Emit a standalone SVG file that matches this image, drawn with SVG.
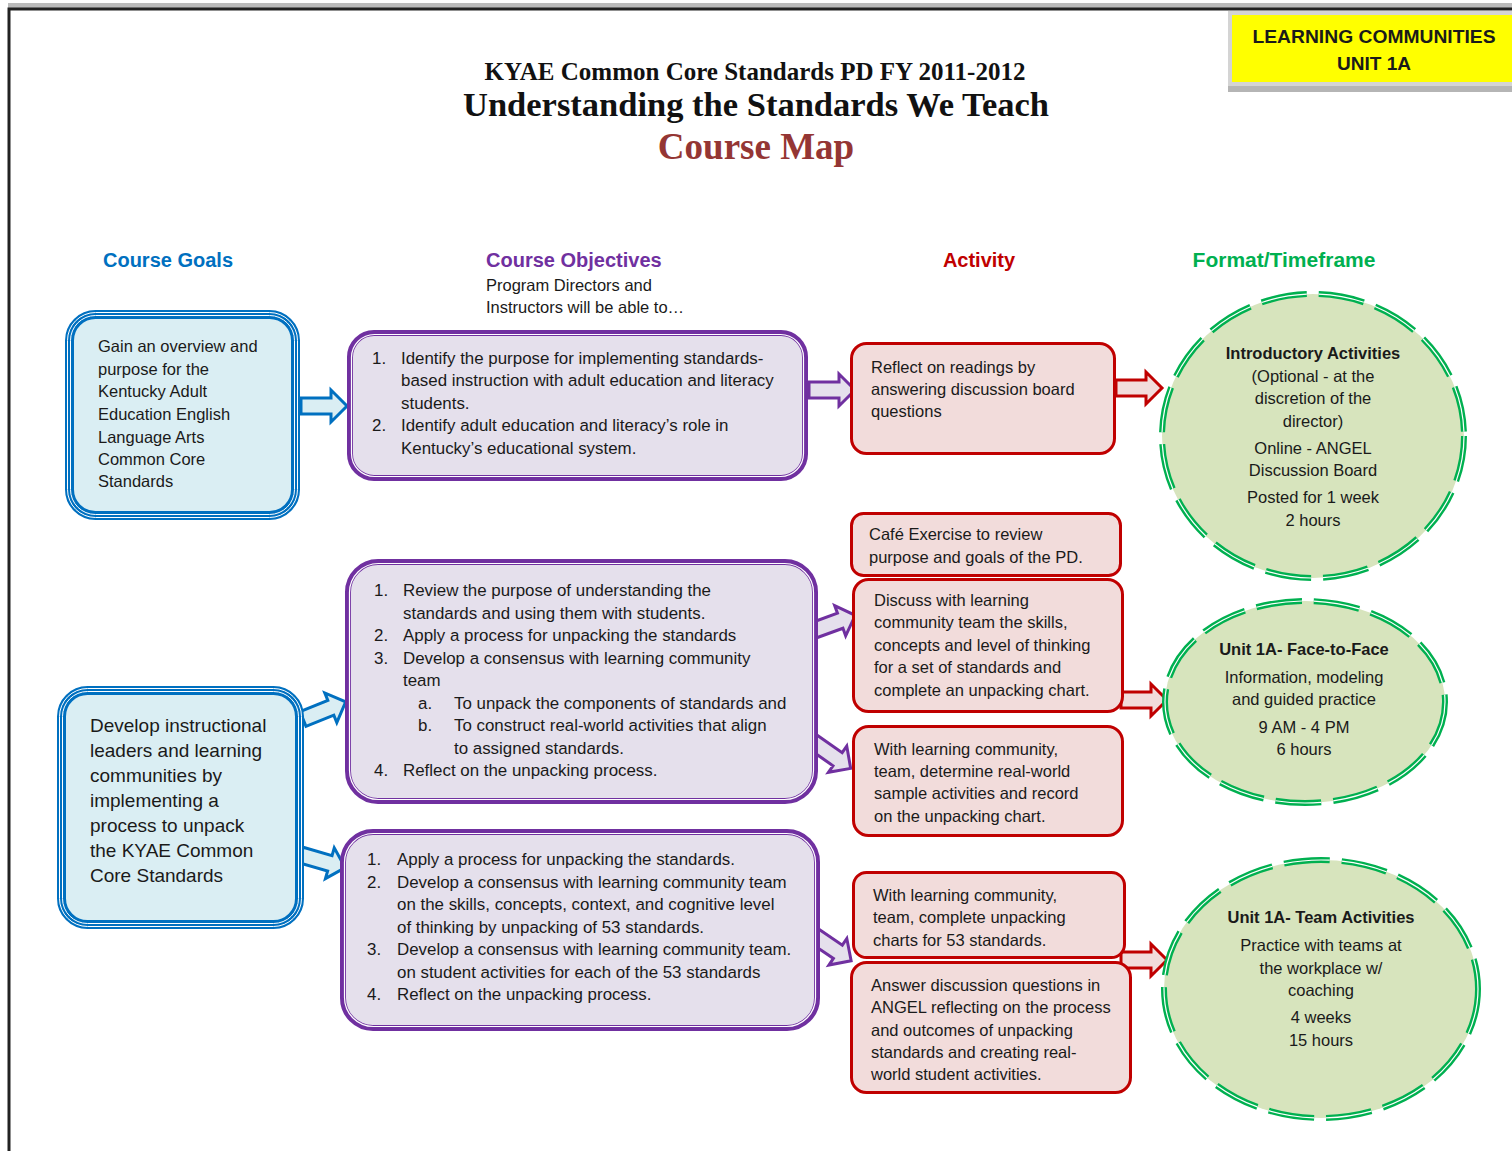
<svg xmlns="http://www.w3.org/2000/svg" xmlns:xlink="http://www.w3.org/1999/xlink" width="1512" height="1151" viewBox="0 0 1512 1151">
<style>
.t{font-family:"Liberation Sans",Arial,sans-serif;font-size:16.5px;fill:#1a1a1a}
.pt{font-size:16.9px}
.tb{font-weight:bold}
.mid{text-anchor:middle}
.big{font-size:19px}
.ser{font-family:"Liberation Serif","Times New Roman",serif;font-weight:bold;fill:#111;text-anchor:middle}
.hd{font-family:"Liberation Sans",Arial,sans-serif;font-weight:bold;font-size:20px}
.bOut{fill:#DAEEF3;stroke:#0070C0;stroke-width:9}
.bLn{fill:none;stroke:#fff;stroke-width:1}
.pOut{fill:#E5E0EC;stroke:#7030A0;stroke-width:6}
.pLn{fill:none;stroke:#fff;stroke-width:1.2}
.rBox{fill:#F2DCDB;stroke:#C00000;stroke-width:3}
.gEl{fill:#D7E4BD;stroke:#00B050;stroke-width:6;stroke-dasharray:46 12}
.gLn{fill:none;stroke:#fff;stroke-width:1.2;stroke-dasharray:46 12}
.aB{fill:#DAEEF3;stroke:#0070C0;stroke-width:3;stroke-linejoin:miter}
.aP{fill:#E5E0EC;stroke:#7030A0;stroke-width:3;stroke-linejoin:miter}
.aR{fill:#F2DCDB;stroke:#C00000;stroke-width:3;stroke-linejoin:miter}
</style>
<defs>
<path id="arw" d="M0,-8 H30 V-16 L46,0 L30,16 V8 H0 Z"/>
</defs>
<rect width="1512" height="1151" fill="#fff"/>
<!-- page frame -->
<rect x="8" y="3" width="1504" height="5" fill="#bbb"/>
<path d="M1512,9 H9 V1151" fill="none" stroke="#222" stroke-width="3"/>

<!-- badge -->
<g id="badge">
<rect x="1228" y="11" width="284" height="81" fill="#d4d4d4"/>
<rect x="1228" y="86" width="284" height="6" fill="#b5b5b5"/>
<rect x="1232" y="15" width="280" height="67" fill="#FFFF00"/>
<text class="t tb mid" x="1374" y="43" textLength="243" lengthAdjust="spacingAndGlyphs" style="font-size:19px">LEARNING COMMUNITIES</text>
<text class="t tb mid" x="1374" y="70" style="font-size:19px">UNIT 1A</text>
</g>

<!-- titles -->
<g id="title">
<text class="ser" x="755" y="80" style="font-size:25px">KYAE Common Core Standards PD FY 2011-2012</text>
<text class="ser" x="756" y="116" style="font-size:34.5px">Understanding the Standards We Teach</text>
<text class="ser" x="756" y="159" style="font-size:37px;fill:#943634">Course Map</text>
</g>

<!-- column headers -->
<g id="headers">
<text class="hd mid" x="168" y="267" fill="#0070C0">Course Goals</text>
<text class="hd" x="486" y="267" fill="#7030A0">Course Objectives</text>
<text class="t" x="486" y="291">Program Directors and</text>
<text class="t" x="486" y="313">Instructors will be able to…</text>
<text class="hd mid" x="979" y="267" fill="#C00000">Activity</text>
<text class="hd mid" x="1284" y="267" fill="#00B050" style="font-size:21px">Format/Timeframe</text>
</g>

<!-- connectors -->
<g id="connectors">
<use xlink:href="#arw" class="aB" transform="translate(301,406)"/>
<use xlink:href="#arw" class="aB" transform="translate(303,719) rotate(-22)"/>
<use xlink:href="#arw" class="aB" transform="translate(301,855) rotate(16)"/>
<use xlink:href="#arw" class="aP" transform="translate(809,390)"/>
<use xlink:href="#arw" class="aP" transform="translate(812,631) rotate(-20)"/>
<use xlink:href="#arw" class="aP" transform="translate(813,742) rotate(35)"/>
<use xlink:href="#arw" class="aP" transform="translate(813,935) rotate(34)"/>
<use xlink:href="#arw" class="aR" transform="translate(1116,388)"/>
<use xlink:href="#arw" class="aR" transform="translate(1121,700)"/>
<use xlink:href="#arw" class="aR" transform="translate(1121,960)"/>
</g>

<!-- course goals -->
<g id="goal1">
<rect class="bOut" x="69.5" y="314.5" width="226" height="201" rx="26"/>
<rect class="bLn" x="67.5" y="312.5" width="230" height="205" rx="28"/>
<rect class="bLn" x="70.5" y="315.5" width="224" height="199" rx="25"/>
<text class="t" x="98" y="352">Gain an overview and</text>
<text class="t" x="98" y="375">purpose for the</text>
<text class="t" x="98" y="397">Kentucky Adult</text>
<text class="t" x="98" y="420">Education English</text>
<text class="t" x="98" y="443">Language Arts</text>
<text class="t" x="98" y="465">Common Core</text>
<text class="t" x="98" y="487">Standards</text>
</g>
<g id="goal2">
<rect class="bOut" x="61.5" y="690.5" width="238" height="234" rx="26"/>
<rect class="bLn" x="59.5" y="688.5" width="242" height="238" rx="28"/>
<rect class="bLn" x="62.5" y="691.5" width="236" height="232" rx="25"/>
<g class="t big" style="font-size:19px">
<text x="90" y="732">Develop instructional</text>
<text x="90" y="757">leaders and learning</text>
<text x="90" y="782">communities by</text>
<text x="90" y="807">implementing a</text>
<text x="90" y="832">process to unpack</text>
<text x="90" y="857">the KYAE Common</text>
<text x="90" y="882">Core Standards</text>
</g>
</g>

<!-- objectives -->
<g id="obj1">
<rect class="pOut" x="350" y="333" width="455" height="145" rx="24"/>
<rect class="pLn" x="351.5" y="334.5" width="452" height="142" rx="23"/>
<g class="t pt">
<text x="372" y="364">1.</text><text x="401" y="364">Identify the purpose for implementing standards-</text>
<text x="401" y="386">based instruction with adult education and literacy</text>
<text x="401" y="409">students.</text>
<text x="372" y="431">2.</text><text x="401" y="431">Identify adult education and literacy’s role in</text>
<text x="401" y="454">Kentucky’s educational system.</text>
</g>
</g>
<g id="obj2">
<rect class="pOut" x="348" y="562" width="467" height="239" rx="30"/>
<rect class="pLn" x="349.5" y="563.5" width="464" height="236" rx="29"/>
<g class="t pt">
<text x="374" y="596">1.</text><text x="403" y="596">Review the purpose of understanding the</text>
<text x="403" y="619">standards and using them with students.</text>
<text x="374" y="641">2.</text><text x="403" y="641">Apply a process for unpacking the standards</text>
<text x="374" y="664">3.</text><text x="403" y="664">Develop a consensus with learning community</text>
<text x="403" y="686">team</text>
<text x="418" y="709">a.</text><text x="454" y="709">To unpack the components of standards and</text>
<text x="418" y="731">b.</text><text x="454" y="731">To construct real-world activities that align</text>
<text x="454" y="754">to assigned standards.</text>
<text x="374" y="776">4.</text><text x="403" y="776">Reflect on the unpacking process.</text>
</g>
</g>
<g id="obj3">
<rect class="pOut" x="343" y="832" width="474" height="196" rx="30"/>
<rect class="pLn" x="344.5" y="833.5" width="471" height="193" rx="29"/>
<g class="t pt">
<text x="367" y="865">1.</text><text x="397" y="865">Apply a process for unpacking the standards.</text>
<text x="367" y="888">2.</text><text x="397" y="888">Develop a consensus with learning community team</text>
<text x="397" y="910">on the skills, concepts, context, and cognitive level</text>
<text x="397" y="933">of thinking by unpacking of 53 standards.</text>
<text x="367" y="955">3.</text><text x="397" y="955">Develop a consensus with learning community team.</text>
<text x="397" y="978">on student activities for each of the 53 standards</text>
<text x="367" y="1000">4.</text><text x="397" y="1000">Reflect on the unpacking process.</text>
</g>
</g>

<!-- activities -->
<g id="act1">
<rect class="rBox" x="851.5" y="343.5" width="263" height="110" rx="15"/>
<g class="t"><text x="871" y="373">Reflect on readings by</text><text x="871" y="395">answering discussion board</text><text x="871" y="417">questions</text></g>
</g>
<g id="act2">
<rect class="rBox" x="851.5" y="513.5" width="269" height="62" rx="12"/>
<g class="t"><text x="869" y="540">Café Exercise to review</text><text x="869" y="563">purpose and goals of the PD.</text></g>
</g>
<g id="act3">
<rect class="rBox" x="853.5" y="579.5" width="269" height="132" rx="15"/>
<g class="t"><text x="874" y="606">Discuss with learning</text><text x="874" y="628">community team the skills,</text><text x="874" y="651">concepts and level of thinking</text><text x="874" y="673">for a set of standards and</text><text x="874" y="696">complete an unpacking chart.</text></g>
</g>
<g id="act4">
<rect class="rBox" x="853.5" y="726.5" width="269" height="109" rx="15"/>
<g class="t"><text x="874" y="755">With learning community,</text><text x="874" y="777">team, determine real-world</text><text x="874" y="799">sample activities and record</text><text x="874" y="822">on the unpacking chart.</text></g>
</g>
<g id="act5">
<rect class="rBox" x="853.5" y="872.5" width="271" height="85" rx="13"/>
<g class="t"><text x="873" y="901">With learning community,</text><text x="873" y="923">team, complete unpacking</text><text x="873" y="946">charts for 53 standards.</text></g>
</g>
<g id="act6">
<rect class="rBox" x="851.5" y="962.5" width="279" height="130" rx="15"/>
<g class="t"><text x="871" y="991">Answer discussion questions in</text><text x="871" y="1013">ANGEL reflecting on the process</text><text x="871" y="1036">and outcomes of unpacking</text><text x="871" y="1058">standards and creating real-</text><text x="871" y="1080">world student activities.</text></g>
</g>

<!-- formats -->
<g id="fmt1">
<ellipse class="gEl" cx="1313" cy="436" rx="151" ry="142"/>
<ellipse class="gLn" cx="1313" cy="436" rx="151" ry="142"/>
<g class="t mid">
<text class="tb" x="1313" y="359">Introductory Activities</text>
<text x="1313" y="382">(Optional - at the</text>
<text x="1313" y="404">discretion of the</text>
<text x="1313" y="427">director)</text>
<text x="1313" y="454">Online - ANGEL</text>
<text x="1313" y="476">Discussion Board</text>
<text x="1313" y="503">Posted for 1 week</text>
<text x="1313" y="526">2 hours</text>
</g>
</g>
<g id="fmt2">
<ellipse class="gEl" cx="1305" cy="702" rx="140" ry="101"/>
<ellipse class="gLn" cx="1305" cy="702" rx="140" ry="101"/>
<g class="t mid">
<text class="tb" x="1304" y="655">Unit 1A- Face-to-Face</text>
<text x="1304" y="683">Information, modeling</text>
<text x="1304" y="705">and guided practice</text>
<text x="1304" y="733">9 AM - 4 PM</text>
<text x="1304" y="755">6 hours</text>
</g>
</g>
<g id="fmt3">
<ellipse class="gEl" cx="1321" cy="989" rx="157" ry="129"/>
<ellipse class="gLn" cx="1321" cy="989" rx="157" ry="129"/>
<g class="t mid">
<text class="tb" x="1321" y="923">Unit 1A- Team Activities</text>
<text x="1321" y="951">Practice with teams at</text>
<text x="1321" y="974">the workplace w/</text>
<text x="1321" y="996">coaching</text>
<text x="1321" y="1023">4 weeks</text>
<text x="1321" y="1046">15 hours</text>
</g>
</g>
</svg>
